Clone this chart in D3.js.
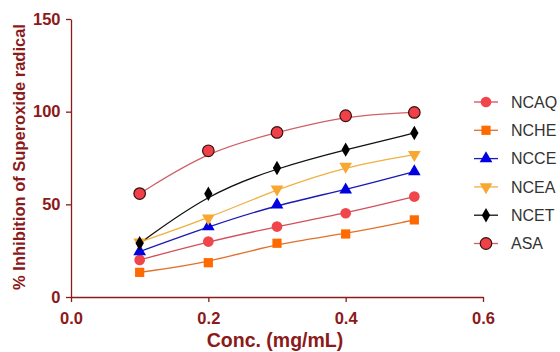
<!DOCTYPE html>
<html>
<head>
<meta charset="utf-8">
<script src="https://cdn.jsdelivr.net/npm/d3@7/dist/d3.min.js"></script>
<style>
  body { margin: 0; background: #fff; }
  svg { display: block; font-family: 'Liberation Sans', Arial, sans-serif; }
</style>
</head>
<body>
<svg id="chart" width="560" height="352"></svg>
<script>
const conc = [0.1, 0.2, 0.3, 0.4, 0.5]
const xTicks = [0.0, 0.2, 0.4, 0.6]
const yTicks = [0, 50, 100, 150]

const ncaq = [20.0, 29.9, 38.0, 45.2, 54.2]
const nche = [13.3, 18.5, 29.0, 34.0, 41.6]
const ncce = [24.5, 38.0, 49.7, 57.8, 67.7]
const ncea = [29.6, 42.5, 58.2, 70.4, 76.8]
const ncet = [29.0, 55.7, 69.6, 79.5, 88.5]
const asa = [55.8, 78.9, 88.8, 97.8, 99.6]

const axisColor = '#8b1a1a'

const series = [
  { name: 'NCAQ', values: ncaq, line: '#d2505a', fill: '#f0454a', stroke: 'none', symbol: d3.symbolCircle, size: 90 },
  { name: 'NCHE', values: nche, line: '#e0702a', fill: '#ff6a00', stroke: 'none', symbol: d3.symbolSquare, size: 85 },
  { name: 'NCCE', values: ncce, line: '#1a1ab4', fill: '#0000e0', stroke: 'none', symbol: d3.symbolTriangle, size: 70 },
  { name: 'NCEA', values: ncea, line: '#f0b040', fill: '#f8a830', stroke: 'none', symbol: 'down', size: 70 },
  { name: 'NCET', values: ncet, line: '#111', fill: '#000', stroke: 'none', symbol: d3.symbolDiamond, size: 60 },
  { name: 'ASA', values: asa, line: '#d06068', fill: '#f04048', stroke: '#3a1010', symbol: d3.symbolCircle, size: 105 },
]

const svg = d3.select('#chart')
const x = d3.scaleLinear().domain([0, 0.6]).range([71, 483])
const y = d3.scaleLinear().domain([0, 150]).range([297, 19])

const xAxis = svg.append('g')
  .attr('transform', `translate(0, ${y(0)})`)
  .call(d3.axisBottom(x).tickValues(xTicks).tickFormat(d3.format('.1f')).tickSize(5).tickSizeOuter(0))
const yAxis = svg.append('g')
  .attr('transform', `translate(${x(0)}, 0)`)
  .call(d3.axisLeft(y).tickValues(yTicks).tickSize(5).tickSizeOuter(0))

for (const g of [xAxis, yAxis]) {
  g.selectAll('path, line').attr('stroke', axisColor).attr('stroke-width', 1.3)
  g.selectAll('text')
    .attr('fill', axisColor)
    .style('font-size', '16.5px')
    .style('font-weight', 'bold')
    .style('font-family', "'Liberation Sans', Arial, sans-serif")
}
xAxis.selectAll('text').attr('dy', '1.15em')
yAxis.selectAll('text').attr('dx', '-0.15em')

svg.append('text')
  .attr('x', 275).attr('y', 347)
  .attr('text-anchor', 'middle')
  .attr('fill', axisColor)
  .style('font-size', '19.5px').style('font-weight', 'bold')
  .text('Conc. (mg/mL)')

svg.append('text')
  .attr('transform', 'translate(25, 157) rotate(-90)')
  .attr('text-anchor', 'middle')
  .attr('fill', axisColor)
  .style('font-size', '16.5px').style('font-weight', 'bold')
  .text('% Inhibition of Superoxide radical')

function symbolPath(s) {
  if (s.symbol === 'down') return d3.symbol(d3.symbolTriangle, s.size)()
  return d3.symbol(s.symbol, s.size)()
}
function symbolRotate(s) {
  return s.symbol === 'down' ? ' rotate(180)' : ''
}

const line = d3.line()
  .x((d, i) => x(conc[i]))
  .y((d) => y(d))
  .curve(d3.curveBasis)

const plot = svg.append('g')
series.forEach((s) => {
  plot.append('path')
    .datum(s.values)
    .attr('d', line)
    .attr('fill', 'none')
    .attr('stroke', s.line)
    .attr('stroke-width', 1.3)
})
series.forEach((s) => {
  plot.selectAll(null)
    .data(s.values)
    .enter()
    .append('path')
    .attr('d', symbolPath(s))
    .attr('transform', (d, i) => `translate(${x(conc[i])}, ${y(d)})` + symbolRotate(s))
    .attr('fill', s.fill)
    .attr('stroke', s.stroke)
    .attr('stroke-width', 1.2)
})

const legend = svg.append('g').attr('transform', 'translate(474, 102)')
const item = legend.selectAll('g')
  .data(series)
  .enter()
  .append('g')
  .attr('transform', (d, i) => `translate(0, ${i * 28.3})`)
item.append('line')
  .attr('x1', 0).attr('x2', 24)
  .attr('stroke', (d) => d.line).attr('stroke-width', 1.3)
item.append('path')
  .attr('d', (d) => symbolPath(d))
  .attr('transform', (d) => 'translate(12, 0)' + symbolRotate(d))
  .attr('fill', (d) => d.fill)
  .attr('stroke', (d) => d.stroke)
  .attr('stroke-width', 1.2)
item.append('text')
  .attr('x', 37).attr('dy', '0.36em')
  .attr('fill', '#333')
  .style('font-size', '16px')
  .text((d) => d.name)
</script>
</body>
</html>
